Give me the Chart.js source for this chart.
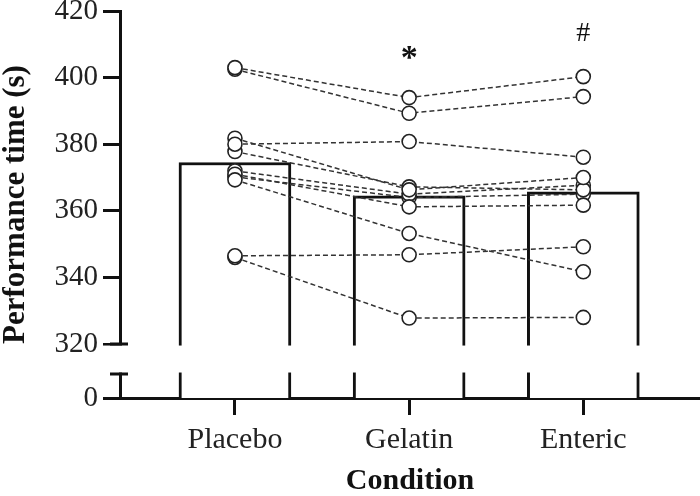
<!DOCTYPE html>
<html>
<head>
<meta charset="utf-8">
<script src="https://cdn.jsdelivr.net/npm/chart.js@4"></script>
<style>
  body { margin: 0; background: #fff; }
</style>
</head>
<body>
<canvas id="myChart" width="700" height="496"></canvas>
<script>
// Categories and values
const categories = ['Placebo', 'Gelatin', 'Enteric'];
const barMeans = [374.5, 364.5, 365.7];

// one row per participant: [placebo, gelatin, enteric]
const subjects = [
    [403, 394, 400.3],
    [402.5, 389.3, 394.3],
    [380, 380.8, 376.1],
    [346.5, 346.8, 349.2],
    [346, 327.8, 328],
    [369.3, 353.2, 341.7],
    [371, 361.2, 361.7],
    [381.8, 366.3, 370],
    [377.8, 367.2, 366.3],
    [372, 365, 367.7],
    [370.2, 364, 365]
];

const yTickLabels = [0, 320, 340, 360, 380, 400, 420];
const annotations = ['', '*', '#'];

// broken axis: 0 is drawn at this display value, gap runs from breakLow to 320
const yMin = 303.8;
const yMax = 420;
const breakLow = 311;
const breakHigh = 320;

const fontFamily = '"Liberation Serif", "Times New Roman", serif';
const ink = '#111';

function toDisplay(v) {
    return v === 0 ? yMin : v;
}

const lineSets = subjects.map(function (row) {
    return {
        type: 'line',
        order: 1,
        data: row.map(function (v, i) { return { x: i + 1, y: v }; }),
        borderColor: '#333',
        borderWidth: 1.5,
        borderDash: [5, 3],
        pointRadius: 7,
        pointBorderWidth: 1.6,
        pointBorderColor: '#222',
        pointBackgroundColor: '#fff',
        fill: false,
        tension: 0
    };
});

// white band over the axis break plus the little caps on the y axis
const breakPlugin = {
    id: 'axisBreak',
    afterDraw(chart) {
        const ctx = chart.ctx;
        const y = chart.scales.y;
        const x = chart.scales.x;
        const top = y.getPixelForValue(breakHigh);
        const bottom = y.getPixelForValue(breakLow);
        ctx.save();
        ctx.fillStyle = '#fff';
        ctx.fillRect(102, top + 1.5, 700 - 102, bottom - top - 3);
        ctx.strokeStyle = ink;
        ctx.lineWidth = 3;
        ctx.beginPath();
        ctx.moveTo(x.left - 10, top);
        ctx.lineTo(x.left + 8, top);
        ctx.moveTo(x.left - 10, bottom);
        ctx.lineTo(x.left + 8, bottom);
        ctx.stroke();

        // significance marks above the groups
        ctx.fillStyle = ink;
        ctx.textAlign = 'center';
        ctx.textBaseline = 'alphabetic';
        ctx.font = 'bold 34px ' + fontFamily;
        ctx.fillText(annotations[1], x.getPixelForValue(2), y.getPixelForValue(403));
        ctx.font = '28px ' + fontFamily;
        ctx.fillText(annotations[2], x.getPixelForValue(3), y.getPixelForValue(411));
        ctx.restore();
    }
};

const ctx = document.getElementById('myChart').getContext('2d');
const myChart = new Chart(ctx, {
    type: 'bar',
    data: {
        datasets: lineSets.concat([{
            type: 'bar',
            order: 2,
            data: barMeans.map(function (v, i) { return { x: i + 1, y: v }; }),
            backgroundColor: '#fff',
            borderColor: ink,
            borderWidth: 3,
            barThickness: 112
        }])
    },
    options: {
        responsive: false,
        animation: false,
        layout: { autoPadding: false, padding: { top: 11, right: 0, bottom: 0, left: 0 } },
        plugins: {
            legend: { display: false },
            tooltip: { enabled: false }
        },
        scales: {
            x: {
                type: 'linear',
                min: 0.34,
                max: 3.67,
                offset: false,
                afterBuildTicks: function (s) {
                    s.ticks = categories.map(function (c, i) { return { value: i + 1 }; });
                },
                afterFit: function (s) {
                    s.height = 98;
                    s.paddingLeft = 0;
                    s.paddingRight = 0;
                },
                ticks: {
                    callback: function (v) { return categories[v - 1]; },
                    font: { family: fontFamily, size: 30, lineHeight: 1 },
                    color: '#222',
                    padding: 10,
                    maxRotation: 0,
                    autoSkip: false
                },
                grid: {
                    offset: false,
                    drawOnChartArea: false,
                    tickLength: 17,
                    tickWidth: 3,
                    tickColor: ink
                },
                border: { color: ink, width: 3 },
                title: {
                    display: true,
                    text: 'Condition',
                    color: ink,
                    font: { family: fontFamily, size: 30, weight: 'bold', lineHeight: 1 },
                    padding: { top: 0, bottom: 0 }
                }
            },
            y: {
                min: yMin,
                max: yMax,
                afterBuildTicks: function (s) {
                    s.ticks = yTickLabels.map(function (v) { return { value: toDisplay(v) }; });
                },
                afterFit: function (s) {
                    s.width = 120;
                    s.paddingTop = 0;
                    s.paddingBottom = 0;
                },
                ticks: {
                    callback: function (v) { return v === yMin ? '0' : String(v); },
                    font: { family: fontFamily, size: 29, lineHeight: 1 },
                    color: '#222',
                    padding: 5
                },
                grid: {
                    drawOnChartArea: false,
                    tickLength: 17,
                    tickWidth: 3,
                    tickColor: ink
                },
                border: { color: ink, width: 3 },
                title: {
                    display: true,
                    text: 'Performance time (s)',
                    color: ink,
                    font: { family: fontFamily, size: 31, weight: 'bold', lineHeight: 1 },
                    padding: { top: 0, bottom: 0 }
                }
            }
        }
    },
    plugins: [breakPlugin]
});
</script>
</body>
</html>
